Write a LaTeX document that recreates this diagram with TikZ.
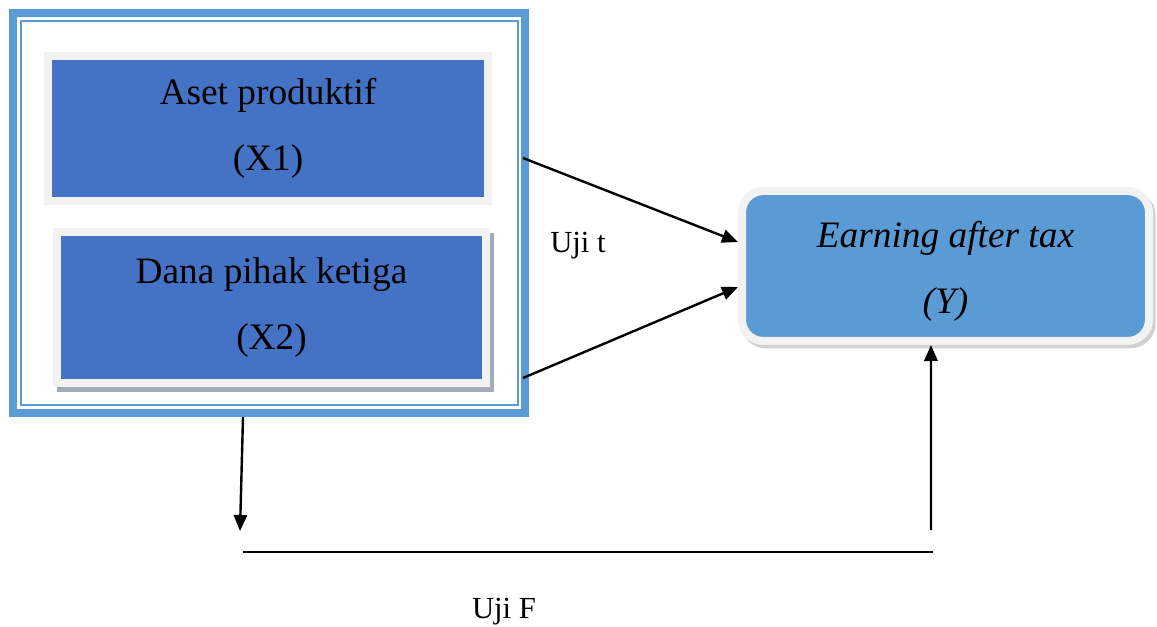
\documentclass[tikz,border=0pt]{standalone}
\usepackage{fontspec}
\setmainfont{Liberation Serif}
\usetikzlibrary{arrows.meta,shadows}
\definecolor{frameblue}{HTML}{5B9BD5}
\definecolor{varblue}{HTML}{4472C4}
\definecolor{rimgrey}{HTML}{F2F2F2}
\definecolor{shadegrey}{HTML}{A3ABBA}

\begin{document}
\begin{tikzpicture}[
  x=0.75pt,y=-0.75pt,
  outerbox/.style={draw=frameblue,line width=6pt,minimum width=384pt,minimum height=300pt,inner sep=0pt},
  innerbox/.style={draw=frameblue,line width=1.5pt,minimum width=372.75pt,minimum height=288pt,inner sep=0pt},
  varbox/.style={draw=rimgrey,fill=varblue,line width=6pt,align=center,inner sep=0pt,font=\fontsize{28}{50}\selectfont},
  depbox/.style={draw=rimgrey,fill=frameblue,line width=6pt,rounded corners=16pt,align=center,inner sep=0pt,
    minimum width=305.25pt,minimum height=112.5pt,font=\itshape\fontsize{28}{50}\selectfont,
    drop shadow={shadow xshift=2pt,shadow yshift=-2.5pt,fill=black!30,draw=black!30,line width=6pt,opacity=0.6}},
  arr/.style={line width=1.8pt,-{Triangle[length=12pt,width=10pt]}},
  lbl/.style={font=\fontsize{23}{27}\selectfont}
]
\useasboundingbox (0,0) rectangle (1157,627);
% left block with both variables
\node[outerbox] (outer) at (269,213) {};
\node[innerbox] (inner) at (269,213) {};
\node[varbox,minimum width=330pt,minimum height=108.75pt] (x1) at (268,128.5) {Aset produktif\\(X1)};
\node[varbox,minimum width=321.75pt,minimum height=112.5pt,
  drop shadow={shadow xshift=3pt,shadow yshift=-3.75pt,fill=shadegrey,draw=shadegrey,line width=6pt,opacity=1}]
  (x2) at (271.5,307.5) {Dana pihak ketiga\\(X2)};
% dependent variable
\node[depbox] (ybox) at (945.5,266) {\raisebox{-4pt}[\height][\depth]{Earning after tax}\\\raisebox{-4pt}[\height][\depth]{(Y)}};
% partial tests
\coordinate (t1) at (523,158);
\coordinate (t2) at (523,378);
\draw[arr] (t1) -- ([yshift=18pt]ybox.west);
\draw[arr] (t2) -- ([yshift=-15.75pt]ybox.west);
\node[lbl] (ujit) at (578,246) {Uji t};
% simultaneous test
\coordinate (fdown) at (240,531);
\coordinate (fup) at (931,530);
\coordinate (fl) at (243,552);
\coordinate (fr) at (933,552);
\draw[arr] ([xshift=-19.5pt]outer.south) -- (fdown);
\draw[arr] (fup) -- ([xshift=-10.9pt]ybox.south);
\draw[line width=1.8pt] (fl) -- (fr);
\node[lbl] (ujif) at (504,612) {Uji F};
\end{tikzpicture}
\end{document}
